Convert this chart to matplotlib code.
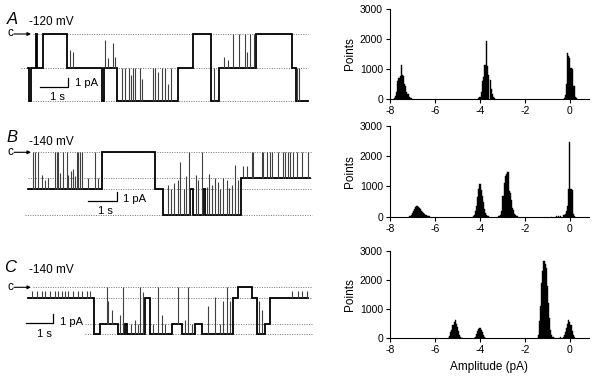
import numpy as np
import matplotlib.pyplot as plt

plt.rcParams['font.family'] = ['Liberation Sans', 'DejaVu Sans']
plt.rcParams['axes.unicode_minus'] = False

# ---- single-channel traces: step levels (s, pA) and brief openings ----
A_steps_t = [0.0, 0.03, 0.09, 0.27, 0.32, 0.54, 1.38, 2.65, 2.73, 3.17, 5.35, 5.90, 6.53, 6.82, 8.13, 9.44, 9.56]
A_steps_i = [-3.8, -7.4, -3.8, 0.0, -3.8, 0.0, -3.8, -7.4, -3.8, -7.4, -3.8, 0.0, -7.4, -3.8, 0.0, -3.8, -7.4]
A_end = 9.99
A_spk_t = [1.50, 1.60, 2.75, 2.85, 3.05, 3.11, 3.35, 3.46, 3.61, 3.68, 3.76, 3.82, 4.00, 4.06, 4.48,
           4.54, 4.63, 4.78, 4.89, 5.00, 5.11, 6.65, 7.01, 7.13, 7.31, 7.54, 7.75, 7.82, 7.94, 8.08, 9.61, 9.68]
A_spk_i = [-1.8, -2.0, -0.7, -2.7, -1.0, -2.5, -3.8, -3.8, -3.8, -4.5, -3.8, -3.8, -3.8, -5.0, -3.8,
           -3.8, -4.2, -3.8, -3.8, -5.5, -3.8, -3.8, -2.5, -2.9, 0.0, 0.0, 0.0, -2.0, 0.0, 0.0, -3.8, -3.8]
A_levels = [0.0, -3.8, -7.4]

B_steps_t = [0.0, 2.54, 4.38, 4.67, 5.60, 5.70, 6.05, 6.12, 7.34]
B_steps_i = [-4.0, 0.0, -4.0, -6.8, -4.0, -6.8, -4.0, -6.8, -2.8]
B_end = 9.72
B_spk_t = [0.18, 0.24, 0.36, 0.48, 0.59, 0.70, 0.93, 0.99, 1.04, 1.10, 1.22, 1.33, 1.38, 1.48, 1.55, 1.62,
           1.68, 1.73, 1.79, 1.85, 2.07, 2.31, 2.41,
           4.82, 4.93, 5.04, 5.16, 5.24, 5.37, 5.46, 5.54, 5.78, 5.87, 5.99, 6.16, 6.25, 6.33, 6.45, 6.55,
           6.62, 6.73, 6.85, 6.94, 7.02, 7.14, 7.25,
           7.41, 7.54, 7.71, 7.77, 8.06, 8.11, 8.23, 8.34, 8.40, 8.63, 8.80, 8.86, 8.98, 9.03, 9.15, 9.27, 9.44, 9.67]
B_spk_i = [0.0, 0.0, 0.0, -2.5, -3.0, -2.8, 0.0, 0.0, 0.0, -2.2, 0.0, 0.0, -2.5, -2.0, -1.8, -2.6,
           0.0, 0.0, 0.0, 0.0, -2.8, 0.0, -2.8,
           -3.5, -4.0, -3.3, -3.0, -1.0, -4.0, -2.6, 0.0, -2.5, -3.0, 0.0, -3.8, -2.4, -3.5, -2.8, -3.2,
           -4.0, -2.8, -3.0, -3.9, -3.5, -1.4, -3.0,
           -1.5, -1.5, 0.0, 0.0, 0.0, 0.0, 0.0, 0.0, 0.0, 0.0, 0.0, 0.0, 0.0, 0.0, 0.0, 0.0, 0.0, 0.0]
B_levels = [0.0, -2.8, -4.0, -6.8]

C_steps_t = [0.0, 2.40, 2.62, 3.28, 3.53, 3.60, 4.25, 4.44, 5.23, 5.59, 6.07, 6.32, 7.47, 7.65, 8.13, 8.32, 8.62, 8.80]
C_steps_i = [-1.15, -5.1, -4.0, -5.1, -4.0, -5.1, -1.15, -5.1, -4.0, -5.1, -4.0, -5.1, -1.15, 0.0, -1.15, -5.1, -4.0, -1.15]
C_end = 10.18
C_spk_t = [0.13, 0.32, 0.50, 0.62, 0.80, 0.98, 1.10, 1.23, 1.35, 1.47, 1.65, 1.83, 1.95, 2.13, 2.25,
           2.86, 2.92, 3.05, 3.35, 3.47, 3.75, 3.89, 4.00, 4.07, 4.18,
           4.55, 4.73, 4.86, 4.98, 5.47, 5.71, 5.83, 5.96,
           6.56, 6.80, 6.98, 7.10, 7.23, 7.35, 8.40, 8.51, 9.59, 9.83, 9.95, 10.13]
C_spk_i = [-0.4] * 15 + [0.0, -1.5, -2.5, -3.0, 0.0, -4.0, -3.5, -4.0, 0.0, -0.5,
                         -4.0, 0.0, -3.0, -4.0, 0.0, -3.5, 0.0, -4.0,
                         -2.0, -1.0, -4.0, -1.5, 0.0, -1.5, -1.5, -2.5, -0.4, -0.4, -0.4, -0.4]
C_levels = [0.0, -1.15, -4.0, -5.1]

# ---- amplitude histograms: bin centres (pA) and counts ----
hA_x = [-7.8, -7.75, -7.7, -7.65, -7.6, -7.55, -7.5, -7.45, -7.4, -7.35, -7.3, -7.25, -7.2, -7.15, -7.1, -7.05,
        -4.05, -4.0, -3.95, -3.9, -3.85, -3.8, -3.75, -3.7, -3.65, -3.6, -3.55, -3.5, -3.45, -3.4, -3.35,
        -0.25, -0.2, -0.15, -0.1, -0.05, 0.0, 0.05, 0.1, 0.15, 0.2, 0.25, 0.3]
hA_n = [30, 100, 250, 600, 700, 760, 1150, 800, 780, 500, 450, 250, 180, 80, 50, 20,
        20, 80, 250, 600, 750, 1130, 1150, 1950, 1100, 800, 650, 350, 180, 80, 20,
        30, 150, 500, 1520, 1450, 1380, 1050, 1000, 450, 420, 80, 20]

hB_x = [-7.15, -7.1, -7.05, -7.0, -6.95, -6.9, -6.85, -6.8, -6.75, -6.7, -6.65, -6.6, -6.55, -6.5, -6.45, -6.4,
        -6.35, -6.3, -6.25,
        -4.3, -4.25, -4.2, -4.15, -4.1, -4.05, -4.0, -3.95, -3.9, -3.85, -3.8, -3.75, -3.7, -3.65, -3.6,
        -3.15, -3.1, -3.05, -3.0, -2.95, -2.9, -2.85, -2.8, -2.75, -2.7, -2.65, -2.6, -2.55, -2.5, -2.45, -2.4, -2.35,
        -0.8, -0.6, -0.5, -0.4, -0.3, -0.25, -0.2, -0.15, -0.1, -0.05, 0.0, 0.05, 0.1, 0.15, 0.2]
hB_n = [10, 30, 70, 130, 200, 270, 320, 340, 320, 280, 240, 190, 150, 110, 80, 55, 35, 20, 10,
        20, 60, 200, 360, 640, 900, 1080, 880, 700, 500, 250, 130, 70, 30, 15,
        20, 60, 200, 680, 700, 1100, 1350, 1400, 1470, 850, 800, 550, 300, 230, 100, 50, 20,
        5, 10, 15, 25, 40, 40, 100, 200, 350, 930, 2460, 900, 880, 100, 20]

hC_x = [-5.4, -5.35, -5.3, -5.25, -5.2, -5.15, -5.1, -5.05, -5.0, -4.95, -4.9, -4.85, -4.8,
        -4.25, -4.2, -4.15, -4.1, -4.05, -4.0, -3.95, -3.9, -3.85, -3.8, -3.75,
        -1.45, -1.4, -1.35, -1.3, -1.25, -1.2, -1.15, -1.1, -1.05, -1.0, -0.95, -0.9, -0.85, -0.8, -0.75, -0.7,
        -0.6, -0.5, -0.4,
        -0.3, -0.25, -0.2, -0.15, -0.1, -0.05, 0.0, 0.05, 0.1, 0.15, 0.2]
hC_n = [20, 80, 200, 300, 470, 560, 620, 480, 380, 250, 130, 60, 20,
        15, 50, 150, 250, 320, 340, 280, 200, 110, 50, 15,
        20, 100, 600, 1100, 1900, 2300, 2650, 2550, 2400, 1800, 1200, 700, 300, 100, 40, 20,
        15, 20, 30,
        40, 100, 200, 350, 500, 620, 560, 450, 250, 100, 30]

W, H = 598, 377
fig = plt.figure(figsize=(W / 100, H / 100), dpi=100)


def px_axes(l, r, t, b):
    return fig.add_axes([l / W, 1 - b / H, (r - l) / W, (b - t) / H])


# overlay in pixel units for labels / scale bars
ov = px_axes(0, W, 0, H)
ov.set_xlim(0, W)
ov.set_ylim(H, 0)
ov.axis('off')

traces = [
    # letter, volt, steps, end, spikes, levels, x0, px/s, y0, px/pA, box(t,b), letter pos, mV pos, dots, bar, texts
    ('A', '-120 mV', A_steps_t, A_steps_i, A_end, A_spk_t, A_spk_i, A_levels, 28, 28.0, 34.0, 9.0, (15, 112),
     (12, 19), (29, 22), [(33, 308), (21, 308), (28, 308)], (68, 86.7), (75, 83), (57, 97)),
    ('B', '-140 mV', B_steps_t, B_steps_i, B_end, B_spk_t, B_spk_i, B_levels, 28, 29.0, 152.3, 9.2, (132, 230),
     (12, 137), (29, 142), [(33, 312), (28, 312), (28, 312), (25, 312)], (116.7, 201), (123, 199), (105, 211)),
    ('C', '-140 mV', C_steps_t, C_steps_i, C_end, C_spk_t, C_spk_i, C_levels, 28, 27.5, 287.3, 9.2, (262, 345),
     (10, 268), (29, 270), [(33, 312), (28, 312), (85, 312), (85, 312)], (53.3, 323.3), (60, 322), (44, 334)),
]

for (lab, mv, st, si, tend, spt, spi, levels, x0, sx, y0, sy, (bt, bb),
     lpos, mpos, dots, sb, pa_pos, s_pos) in traces:
    l, r = 15, 315
    ax = px_axes(l, r, bt, bb)
    ax.set_xlim((l - x0) / sx, (r - x0) / sx)
    ax.set_ylim((y0 - bb) / sy, (y0 - bt) / sy)
    ax.axis('off')
    # dotted reference levels
    for lev, (d0, d1) in zip(levels, dots):
        ax.hlines(lev, (d0 - x0) / sx, (d1 - x0) / sx, colors='0.45', linestyles=(0, (1, 1.5)), lw=0.7)
    # step trace
    xs, ys = [], []
    for k, lev in enumerate(si):
        t1 = st[k + 1] if k + 1 < len(st) else tend
        xs += [st[k], t1]
        ys += [lev, lev]
    ax.plot(xs, ys, color='black', lw=1.3, solid_joinstyle='miter')
    # brief openings
    idx = np.searchsorted(st, spt, side='right') - 1
    base = np.array(si)[idx]
    ax.vlines(spt, base, spi, colors='0.25', lw=0.8)

    # labels
    ov.text(lpos[0], lpos[1], lab, fontsize=12, style='italic', ha='center', va='center')
    ov.text(mpos[0], mpos[1], mv, fontsize=8.5, ha='left', va='center')
    ov.text(10, y0 - 0.5, 'c', fontsize=8.5, ha='center', va='center')
    ov.annotate('', xy=(x0 + 3, y0), xytext=(14, y0),
                arrowprops=dict(arrowstyle='-|>', lw=0.8, color='black', mutation_scale=5,
                                shrinkA=0, shrinkB=0))
    # scale bar: 1 s, 1 pA
    cx, cy = sb
    ov.plot([cx - sx, cx, cx], [cy, cy, cy - sy], color='black', lw=0.9)
    ov.text(pa_pos[0], pa_pos[1], '1 pA', fontsize=8, ha='left', va='center')
    ov.text(s_pos[0], s_pos[1], '1 s', fontsize=8, ha='center', va='center')

hists = [(hA_x, hA_n, 9, 99), (hB_x, hB_n, 126, 216.7), (hC_x, hC_n, 250.7, 338.3)]
for i, (hx, hn, top, bot) in enumerate(hists):
    ax = px_axes(390, 589, top, bot)
    ax.bar(hx, hn, width=0.05, color='black', edgecolor='black', lw=0.3)
    ax.set_xlim(-8, 0.85)
    ax.set_ylim(0, 3000)
    ax.set_yticks([0, 1000, 2000, 3000])
    ax.set_xticks([-8, -6, -4, -2, 0])
    for s in ['top', 'right']:
        ax.spines[s].set_visible(False)
    for s in ['left', 'bottom']:
        ax.spines[s].set_linewidth(0.8)
    ax.tick_params(length=3, width=0.8, pad=2, labelsize=7.5)
    ax.set_ylabel('Points', fontsize=8.5)
    ax.yaxis.set_label_coords(-0.17, 0.5)
    if i == 2:
        ax.set_xlabel('Amplitude (pA)', fontsize=8.5, labelpad=4)

fig.savefig('out.png', dpi=100)
